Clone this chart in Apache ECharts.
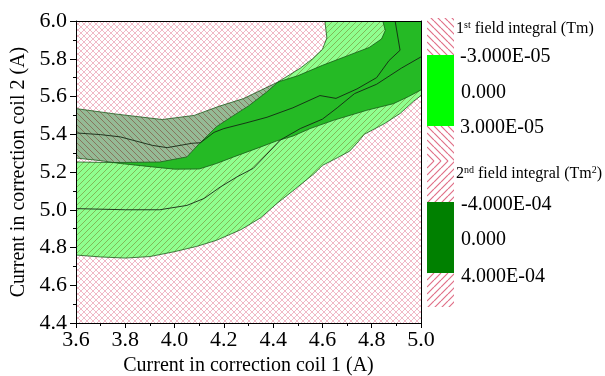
<!DOCTYPE html>
<html>
<head>
<meta charset="utf-8">
<script src="https://cdn.jsdelivr.net/npm/echarts@6/dist/echarts.min.js"></script>
<style>
  html, body { margin: 0; padding: 0; background: #fff; }
  #chart { width: 605px; height: 376px; }
</style>
</head>
<body>
<div id="chart"></div>
<script>
// axis ticks
const xTickLabels = ['3.6', '3.8', '4.0', '4.2', '4.4', '4.6', '4.8', '5.0'];
const yTickLabels = ['4.4', '4.6', '4.8', '5.0', '5.2', '5.4', '5.6', '5.8', '6.0'];
const legend1Labels = ['-3.000E-05', '0.000', '3.000E-05'];
const legend2Labels = ['-4.000E-04', '0.000', '4.000E-04'];

// 1st field integral: band between lower and upper tolerance contours
const lower1 = [[3.6, 4.76], [3.7, 4.75], [3.8, 4.744], [3.9, 4.752], [4.0, 4.778], [4.09, 4.806], [4.17, 4.838],
  [4.27, 4.895], [4.35, 4.958], [4.415, 5.033], [4.48, 5.10], [4.565, 5.19], [4.6, 5.235], [4.66, 5.275],
  [4.71, 5.31], [4.745, 5.36], [4.77, 5.40], [4.85, 5.455], [4.915, 5.51], [4.97, 5.575], [5.0, 5.605]];
const upper1 = [[3.6, 5.253], [3.75, 5.25], [3.94, 5.253], [4.05, 5.28], [4.1, 5.35], [4.17, 5.44], [4.24, 5.50],
  [4.3, 5.55], [4.375, 5.625], [4.42, 5.677], [4.51, 5.75], [4.56, 5.80], [4.6, 5.85], [4.618, 5.91], [4.61, 6.0]];
const zero1 = [[3.6, 5.006], [3.8, 5.0], [3.94, 5.0], [4.05, 5.023], [4.12, 5.06], [4.185, 5.12], [4.253, 5.174],
  [4.32, 5.22], [4.375, 5.295], [4.43, 5.37], [4.51, 5.43], [4.6, 5.48], [4.66, 5.54], [4.73, 5.615],
  [4.82, 5.665], [4.92, 5.75], [5.0, 5.81]];

// 2nd field integral
const lower2 = [[3.6, 5.274], [3.7, 5.26], [3.78, 5.245], [3.91, 5.227], [4.0, 5.215], [4.1, 5.216], [4.17, 5.245],
  [4.24, 5.28], [4.35, 5.333], [4.415, 5.365], [4.48, 5.39], [4.55, 5.43], [4.645, 5.474], [4.78, 5.527],
  [4.888, 5.562], [4.95, 5.60], [5.0, 5.635]];
const upper2 = [[3.6, 5.536], [3.75, 5.509], [3.95, 5.478], [4.08, 5.50], [4.18, 5.548], [4.28, 5.589], [4.35, 5.633],
  [4.42, 5.677], [4.5, 5.71], [4.6, 5.765], [4.7, 5.815], [4.79, 5.86], [4.84, 5.905], [4.855, 5.95], [4.845, 6.0]];
const zero2 = [[3.6, 5.407], [3.7, 5.398], [3.78, 5.386], [3.91, 5.341], [3.97, 5.329], [4.07, 5.352], [4.105, 5.355],
  [4.16, 5.41], [4.2, 5.43], [4.29, 5.46], [4.375, 5.49], [4.48, 5.54], [4.59, 5.605], [4.655, 5.59],
  [4.74, 5.64], [4.82, 5.70], [4.87, 5.79], [4.915, 5.845], [4.895, 6.0]];

const xMin = 3.6, xMax = 5.0, yMin = 4.4, yMax = 6.0;
const serif = 'Liberation Serif';

function hatch(dir, color, size, width) {
  let c = document.createElement('canvas');
  c.width = c.height = size;
  let g = c.getContext('2d');
  g.fillStyle = '#fff';
  g.fillRect(0, 0, size, size);
  g.strokeStyle = color;
  g.lineWidth = width;
  g.beginPath();
  for (let k = -1; k <= 1; k++) {
    if (dir === '/') { g.moveTo(k * size, size); g.lineTo(k * size + size, 0); }
    else { g.moveTo(k * size, 0); g.lineTo(k * size + size, size); }
  }
  g.stroke();
  return { image: c, repeat: 'repeat' };
}

// polygons built from the contour lines
function below(line) { return [[xMin, yMin]].concat(line, [[xMax, yMin]]); }
function above(line) { return line.concat([[xMin, yMax]]); }
function band(lo, up) { return lo.concat([[xMax, yMax]], up.slice().reverse()); }

function area(points, fill, opacity, z) {
  return {
    type: 'custom',
    coordinateSystem: 'cartesian2d',
    silent: true,
    clip: true,
    z: z,
    data: [[xMin, yMin]],
    renderItem: function (params, api) {
      return {
        type: 'polygon',
        shape: { points: points.map(p => api.coord(p)) },
        style: { fill: fill, opacity: opacity }
      };
    }
  };
}

function contour(data, color, width) {
  return {
    type: 'line', data: data, symbol: 'none', silent: true, z: 4,
    lineStyle: { color: color, width: width }
  };
}

const hatchBack = hatch('\\', '#df6582', 6, 0.9);
const hatchFwd = hatch('/', '#df6582', 6, 0.9);
const legendBack = hatch('\\', '#e07088', 7, 1.2);
const legendFwd = hatch('/', '#e07088', 7, 1.2);

const axisText = { fontFamily: serif, fontSize: 22, color: '#000' };

let option = {
  animation: false,
  grid: { left: 76, right: 184, top: 21, bottom: 53, outerBoundsMode: 'none', containLabel: false },
  xAxis: [{
    type: 'value', min: xMin, max: xMax, interval: 0.2, z: 10,
    name: 'Current in correction coil 1 (A)', nameLocation: 'middle', nameGap: 32,
    nameTextStyle: { fontFamily: serif, fontSize: 20, color: '#000' },
    axisLine: { lineStyle: { color: '#000', width: 1 } },
    axisTick: { show: true, inside: false, length: 5, lineStyle: { color: '#000' } },
    minorTick: { show: true, splitNumber: 2, length: 3, lineStyle: { color: '#000' } },
    splitLine: { show: false },
    axisLabel: Object.assign({ margin: 6, formatter: (v, i) => xTickLabels[i] }, axisText)
  }, {
    type: 'value', min: xMin, max: xMax, position: 'top', z: 10,
    axisLine: { show: true, lineStyle: { color: '#000', width: 1 } },
    axisTick: { show: false }, axisLabel: { show: false }, splitLine: { show: false }
  }],
  yAxis: [{
    type: 'value', min: yMin, max: yMax, interval: 0.2, z: 10,
    name: 'Current in correction coil 2 (A)', nameLocation: 'middle', nameGap: 42,
    nameTextStyle: { fontFamily: serif, fontSize: 20, color: '#000' },
    axisLine: { show: true, lineStyle: { color: '#000', width: 1 } },
    axisTick: { show: true, inside: false, length: 6, lineStyle: { color: '#000' } },
    minorTick: { show: true, splitNumber: 2, length: 3, lineStyle: { color: '#000' } },
    splitLine: { show: false },
    axisLabel: Object.assign({ margin: 9, formatter: (v, i) => yTickLabels[i] }, axisText)
  }, {
    type: 'value', min: yMin, max: yMax, position: 'right', z: 10,
    axisLine: { show: true, lineStyle: { color: '#000', width: 1 } },
    axisTick: { show: false }, axisLabel: { show: false }, splitLine: { show: false }
  }],
  series: [
    // 1st field integral layer
    area(below(lower1), hatchBack, 1, 1),
    area(above(upper1), hatchBack, 1, 1),
    area(band(lower1, upper1), '#1eff1e', 1, 1),
    // 2nd field integral layer, half transparent
    area(below(lower2), hatchFwd, 0.5, 2),
    area(above(upper2), hatchFwd, 0.5, 2),
    area(band(lower2, upper2), '#2c762c', 0.5, 2),
    contour(lower1, '#1d5a1d', 0.8),
    contour(upper1, '#1d5a1d', 0.8),
    contour(lower2, '#1d5a1d', 0.8),
    contour(upper2, '#1d5a1d', 0.8),
    contour(zero1, '#142814', 0.9),
    contour(zero2, '#142814', 0.9)
  ],
  graphic: [
    { type: 'rect', shape: { x: 427, y: 18, width: 27, height: 37 }, style: { fill: legendBack } },
    { type: 'rect', shape: { x: 427, y: 55, width: 27, height: 71 }, style: { fill: '#00ff00' } },
    { type: 'rect', shape: { x: 427, y: 126, width: 27, height: 35 }, style: { fill: legendBack } },
    { type: 'rect', shape: { x: 427, y: 161, width: 27, height: 41 }, style: { fill: legendFwd } },
    { type: 'rect', shape: { x: 427, y: 202, width: 27, height: 71 }, style: { fill: '#008000' } },
    { type: 'rect', shape: { x: 427, y: 273, width: 27, height: 34 }, style: { fill: legendFwd } },
    {
      type: 'text', x: 456, y: 29,
      style: {
        text: '{n|1}{s|st}{n| field integral (Tm)}', fill: '#000', verticalAlign: 'middle',
        rich: { n: { fontFamily: serif, fontSize: 16, lineHeight: 18 }, s: { fontFamily: serif, fontSize: 10, lineHeight: 10, verticalAlign: 'top' } }
      }
    },
    {
      type: 'text', x: 456, y: 174,
      style: {
        text: '{n|2}{s|nd}{n| field integral (Tm}{s|2}{n|)}', fill: '#000', verticalAlign: 'middle',
        rich: { n: { fontFamily: serif, fontSize: 16, lineHeight: 18 }, s: { fontFamily: serif, fontSize: 10, lineHeight: 10, verticalAlign: 'top' } }
      }
    },
    { type: 'text', x: 460, y: 57, style: { text: legend1Labels[0], font: '20px ' + serif, fill: '#000', verticalAlign: 'middle' } },
    { type: 'text', x: 461, y: 93, style: { text: legend1Labels[1], font: '20px ' + serif, fill: '#000', verticalAlign: 'middle' } },
    { type: 'text', x: 460, y: 128, style: { text: legend1Labels[2], font: '20px ' + serif, fill: '#000', verticalAlign: 'middle' } },
    { type: 'text', x: 461, y: 205, style: { text: legend2Labels[0], font: '20px ' + serif, fill: '#000', verticalAlign: 'middle' } },
    { type: 'text', x: 461, y: 240, style: { text: legend2Labels[1], font: '20px ' + serif, fill: '#000', verticalAlign: 'middle' } },
    { type: 'text', x: 461, y: 277, style: { text: legend2Labels[2], font: '20px ' + serif, fill: '#000', verticalAlign: 'middle' } }
  ]
};

var myChart = echarts.init(document.getElementById('chart'));
myChart.setOption(option);
window.addEventListener('resize', function () {
  myChart.resize();
});
</script>
</body>
</html>
